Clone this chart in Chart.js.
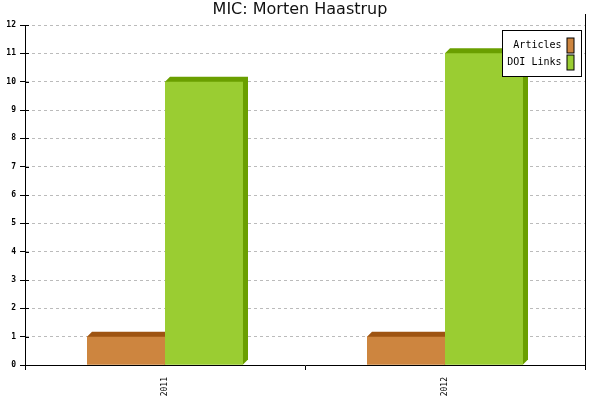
<!DOCTYPE html>
<html><head><meta charset="utf-8">
<script src="https://cdn.jsdelivr.net/npm/chart.js@4"></script>
<style>html,body{margin:0;padding:0;background:#fff}#wrap{width:600px;height:400px}</style>
</head><body><div id="wrap"><canvas id="c" width="600" height="400"></canvas></div>
<script>
const titleText = "MIC: Morten Haastrup";
const categories = ["2011", "2012"];
const articles = [1, 1];
const doiLinks = [10, 11];
const seriesNames = ["Articles", "DOI Links"];
const frontColors = ["#CD853F", "#9ACD32"];
const shadeColors = ["#9E5412", "#6A9F00"];
const yTicks = [0,1,2,3,4,5,6,7,8,9,10,11,12];

const DEPTH = 5;
function drawDepth(chart, i) {
  const ctx = chart.ctx;
  const meta = chart.getDatasetMeta(i);
  ctx.save();
  ctx.fillStyle = chart.data.datasets[i].shadeColor;
  meta.data.forEach(el => {
    const p = el.getProps(['x','y','base','width'], true);
    const l = p.x - p.width/2, r = p.x + p.width/2, t = p.y, b = p.base;
    ctx.beginPath();
    ctx.moveTo(l, t); ctx.lineTo(l+DEPTH, t-DEPTH); ctx.lineTo(r+DEPTH, t-DEPTH);
    ctx.lineTo(r+DEPTH, b-DEPTH); ctx.lineTo(r, b); ctx.closePath();
    ctx.fill();
  });
  ctx.restore();
}
const depthPlugin = {
  id: 'depth',
  afterDatasetsDraw(chart) {
    const a = chart.chartArea;
    chart.data.datasets.forEach((ds, i) => {
      drawDepth(chart, i);
      chart.getDatasetMeta(i).data.forEach(el => el.draw(chart.ctx, a));
    });
  }
};

const framePlugin = {
  id: 'frame',
  afterDraw(chart) {
    const ctx = chart.ctx, a = chart.chartArea;
    const y = chart.scales.y;
    ctx.save();
    // title
    ctx.fillStyle = '#111';
    ctx.font = '16px "DejaVu Sans"';
    ctx.textAlign = 'center'; ctx.textBaseline = 'middle';
    ctx.fillText(titleText, 300, 10);
    ctx.strokeStyle = '#000'; ctx.lineWidth = 1;
    // right border line
    ctx.beginPath(); ctx.moveTo(a.right+0.5, 14); ctx.lineTo(a.right+0.5, a.bottom+5); ctx.stroke();
    // inner tick marks on y axis
    yTicks.forEach(v => {
      const py = Math.round(y.getPixelForValue(v)) + 0.5;
      ctx.beginPath(); ctx.moveTo(a.left, py); ctx.lineTo(a.left+4, py); ctx.stroke();
    });
    // legend
    const bx = 502.5, by = 30.5, bw = 79, bh = 46;
    ctx.fillStyle = '#fff'; ctx.fillRect(bx, by, bw, bh);
    ctx.strokeRect(bx, by, bw, bh);
    ctx.font = '10px "DejaVu Sans Mono"';
    ctx.textAlign = 'right'; ctx.textBaseline = 'middle';
    chart.data.datasets.forEach((ds, i) => {
      const cy = by + 15 + i*17;
      ctx.fillStyle = '#000';
      ctx.fillText(ds.label, bx + 59, cy);
      ctx.fillStyle = ds.backgroundColor;
      ctx.fillRect(bx + 64.5, cy - 7.5, 7, 15);
      ctx.strokeRect(bx + 64.5, cy - 7.5, 7, 15);
    });
    ctx.restore();
  }
};

new Chart(document.getElementById('c'), {
  type: 'bar',
  data: {
    labels: categories,
    datasets: [
      { label: seriesNames[0], data: articles, backgroundColor: frontColors[0], shadeColor: shadeColors[0] },
      { label: seriesNames[1], data: doiLinks, backgroundColor: frontColors[1], shadeColor: shadeColors[1] }
    ]
  },
  options: {
    responsive: false,
    animation: false,
    devicePixelRatio: 1,
    categoryPercentage: 0.557,
    barPercentage: 1.0,
    layout: { padding: { left: 0, right: 15, top: 25, bottom: 0 } },
    plugins: {
      legend: { display: false },
      tooltip: { enabled: false },
      title: { display: false }
    },
    scales: {
      x: {
        afterFit(s) { s.height = 35; },
        grid: { display: true, drawOnChartArea: false, offset: true, color: '#000', tickLength: 5 },
        border: { color: '#000', width: 1 },
        ticks: { color: '#000', font: { family: '"DejaVu Sans Mono"', size: 8 }, minRotation: 90, maxRotation: 90, padding: 7 }
      },
      y: {
        min: 0, max: 12,
        afterFit(s) { s.width = 25; },
        afterBuildTicks(s) { s.ticks = yTicks.map(v => ({ value: v })); },
        grid: { color: '#bbbbbb', tickLength: 5, tickColor: '#000', tickBorderDash: [] },
        border: { color: '#000', width: 1, dash: [3, 3] },
        ticks: { color: '#000', font: { family: '"DejaVu Sans Mono"', size: 8, weight: 'bold' }, padding: 4 }
      }
    }
  },
  plugins: [depthPlugin, framePlugin]
});
</script></body></html>
